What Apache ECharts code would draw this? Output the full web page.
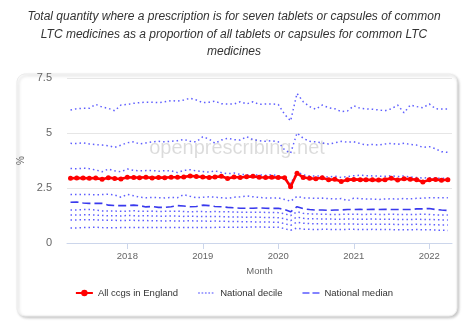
<!DOCTYPE html>
<html>
<head>
<meta charset="utf-8">
<script src="https://cdn.jsdelivr.net/npm/echarts@6/dist/echarts.min.js"></script>
<style>
html,body{margin:0;padding:0;background:#fff;}
#chart{width:468px;height:323px;}
</style>
</head>
<body>
<div id="chart"></div>
<script>
// Months: Apr 2017 .. Apr 2022 (61 monthly points)
const startYear = 2017, startMonth = 3, monthCount = 61;
const months = [];
for (let i = 0; i < monthCount; i++) {
  months.push(new Date(startYear, startMonth + i, 1).getTime());
}
const yearTicks = [2018, 2019, 2020, 2021, 2022];
const yTicks = [0, 2.5, 5, 7.5];

const allCcgs = [2.94,2.95,2.95,2.94,2.95,2.90,2.97,2.93,2.91,
  2.99,2.98,2.97,2.99,2.96,2.98,2.97,2.99,2.99,3.00,3.05,3.02,
  3.00,2.98,3.00,3.03,2.93,3.00,2.98,3.01,3.03,2.99,2.98,2.99,
  2.98,2.97,2.56,3.17,2.98,2.94,
  2.92,2.97,2.87,2.90,2.80,2.88,2.89,2.88,2.87,2.87,
  2.86,2.88,2.94,2.86,2.92,2.90,2.88,2.77,2.87,2.89,2.85,2.88];

const p90 = [6.05,6.10,6.12,6.12,6.30,6.18,6.12,6.01,6.27,
  6.30,6.35,6.38,6.40,6.40,6.38,6.42,6.47,6.45,6.50,6.58,6.50,
  6.38,6.40,6.45,6.33,6.32,6.32,6.42,6.32,6.42,6.30,6.32,6.32,
  6.30,5.85,5.55,6.80,6.42,6.20,
  6.08,6.27,6.15,6.10,5.97,6.00,6.24,6.12,6.10,6.08,
  6.05,6.01,6.10,6.27,5.92,6.27,6.20,6.15,6.32,6.10,6.09,6.09];
const p80 = [4.53,4.52,4.55,4.50,4.47,4.45,4.42,4.35,4.45,
  4.56,4.60,4.50,4.55,4.60,4.62,4.60,4.62,4.65,4.71,4.62,4.60,
  4.83,4.72,4.53,4.68,4.76,4.70,4.68,4.83,4.70,4.65,4.62,4.65,
  4.60,4.23,4.08,5.00,4.76,4.62,
  4.60,4.55,4.50,4.55,4.62,4.58,4.60,4.52,4.45,4.48,
  4.45,4.50,4.53,4.48,4.53,4.48,4.45,4.35,4.38,4.28,4.15,4.12];
const p70 = [3.39,3.37,3.40,3.38,3.32,3.24,3.36,3.28,3.24,
  3.36,3.30,3.28,3.29,3.30,3.26,3.29,3.28,3.20,3.30,3.33,3.28,
  3.25,3.22,3.28,3.20,3.15,3.18,3.12,3.10,3.08,3.10,3.08,3.10,
  3.06,2.95,2.70,3.24,3.10,3.05,
  3.05,3.03,3.00,3.04,2.98,3.02,3.06,3.08,3.06,3.05,
  3.04,3.03,3.06,3.02,3.05,3.00,2.98,2.95,2.97,2.94,2.95,2.94];
const p60 = [2.21,2.20,2.21,2.20,2.19,2.20,2.22,2.18,2.08,
  2.21,2.15,2.08,2.06,2.07,2.06,2.05,2.07,2.06,2.20,2.12,2.06,
  2.08,2.10,2.08,2.06,2.03,2.08,2.10,2.14,2.10,2.07,2.05,2.04,
  2.05,1.98,1.90,2.12,2.05,2.04,
  2.03,2.04,2.02,2.00,2.02,1.92,2.04,2.02,2.00,2.00,
  1.98,2.00,2.01,2.00,2.02,2.01,2.03,2.04,2.06,2.05,2.06,2.06];
const median = [1.85,1.86,1.82,1.80,1.80,1.80,1.72,1.70,1.70,
  1.70,1.72,1.70,1.64,1.66,1.62,1.62,1.65,1.70,1.68,1.65,1.66,
  1.72,1.70,1.66,1.65,1.62,1.60,1.58,1.58,1.58,1.60,1.58,1.57,
  1.58,1.52,1.42,1.65,1.56,1.52,
  1.50,1.50,1.48,1.50,1.50,1.52,1.52,1.53,1.52,1.53,
  1.52,1.53,1.52,1.52,1.52,1.52,1.55,1.55,1.57,1.52,1.50,1.48];
const p40 = [1.50,1.50,1.52,1.52,1.50,1.46,1.45,1.45,1.44,
  1.45,1.47,1.44,1.44,1.45,1.43,1.44,1.44,1.45,1.43,1.42,1.43,
  1.43,1.42,1.43,1.42,1.42,1.41,1.40,1.40,1.40,1.40,1.39,1.39,
  1.38,1.33,1.25,1.42,1.35,1.32,
  1.32,1.31,1.30,1.30,1.30,1.31,1.31,1.30,1.30,1.31,
  1.30,1.30,1.31,1.30,1.30,1.30,1.30,1.31,1.30,1.28,1.27,1.27];
const p30 = [1.27,1.27,1.28,1.28,1.27,1.25,1.24,1.24,1.23,
  1.25,1.24,1.23,1.24,1.23,1.22,1.22,1.23,1.22,1.21,1.22,1.21,
  1.21,1.20,1.21,1.20,1.19,1.18,1.18,1.17,1.18,1.17,1.16,1.16,
  1.15,1.10,1.02,1.18,1.12,1.10,
  1.10,1.09,1.09,1.08,1.08,1.09,1.09,1.08,1.08,1.09,
  1.08,1.08,1.08,1.07,1.07,1.07,1.08,1.07,1.07,1.06,1.05,1.05];
const p20 = [1.05,1.05,1.06,1.06,1.05,1.04,1.03,1.03,1.02,
  1.03,1.03,1.02,1.02,1.01,1.01,1.00,1.01,1.00,1.00,1.01,1.00,
  1.00,0.99,1.00,0.99,0.98,0.98,0.97,0.97,0.96,0.96,0.95,0.95,
  0.94,0.88,0.80,0.95,0.90,0.88,
  0.87,0.87,0.86,0.86,0.86,0.86,0.86,0.85,0.85,0.86,
  0.85,0.85,0.85,0.84,0.84,0.84,0.85,0.84,0.84,0.83,0.82,0.82];
const p10 = [0.68,0.68,0.70,0.70,0.72,0.70,0.69,0.69,0.70,
  0.70,0.70,0.71,0.70,0.70,0.70,0.71,0.70,0.70,0.70,0.70,0.70,
  0.70,0.70,0.71,0.72,0.72,0.72,0.71,0.72,0.73,0.73,0.72,0.72,
  0.72,0.65,0.58,0.68,0.62,0.62,
  0.61,0.62,0.62,0.61,0.61,0.62,0.62,0.61,0.61,0.62,
  0.61,0.61,0.61,0.60,0.60,0.60,0.61,0.60,0.60,0.59,0.58,0.57];

const deciles = [p90, p80, p70, p60, p40, p30, p20, p10];

function pairs(arr) { return arr.map((v, i) => [months[i], v]); }

const FONT = '"Liberation Sans", Arial, sans-serif';
const decileColor = 'rgba(40,40,255,0.75)';
const medianColor = 'rgba(30,30,235,0.88)';

const series = [];
deciles.forEach(d => {
  series.push({
    name: 'National decile', type: 'line', data: pairs(d),
    symbol: 'none', silent: true, z: 2,
    lineStyle: { color: decileColor, width: 1.5, type: [1.5, 3] },
    itemStyle: { color: decileColor }
  });
});
series.push({
  name: 'National median', type: 'line', data: pairs(median),
  symbol: 'none', z: 3,
  lineStyle: { color: medianColor, width: 1.6, type: [8, 4] },
  itemStyle: { color: medianColor }
});
series.push({
  name: 'All ccgs in England', type: 'line', data: pairs(allCcgs),
  symbol: 'circle', symbolSize: 5, z: 5,
  lineStyle: { color: '#ff0000', width: 2.6 },
  itemStyle: { color: '#ff0000' }
});

const yearStamps = yearTicks.map(y => new Date(y, 0, 1).getTime());

const chart = echarts.init(document.getElementById('chart'), null, { renderer: 'canvas' });
chart.setOption({
  animation: false,
  textStyle: { fontFamily: FONT },
  title: {
    text: 'Total quantity where a prescription is for seven tablets or capsules of common\nLTC medicines as a proportion of all tablets or capsules for common LTC\nmedicines',
    left: 'center', top: 3,
    textStyle: { fontStyle: 'italic', fontWeight: 'normal', fontSize: 12, color: '#333', lineHeight: 17.5, fontFamily: FONT, align: 'center' }
  },
  graphic: [
    { type: 'rect', z: -10, shape: { x: 17, y: 74, width: 440, height: 242, r: 8 },
      style: { fill: '#fff', stroke: '#ececec', lineWidth: 1, shadowBlur: 3, shadowColor: 'rgba(0,0,0,0.22)', shadowOffsetX: 1.5, shadowOffsetY: 1.5 } },
    { type: 'text', z: -5, x: 237, y: 148,
      style: { text: 'openprescribing.net', fontSize: 20, fontFamily: FONT, fill: 'rgba(0,0,0,0.14)', align: 'center', verticalAlign: 'middle' } }
  ],
  grid: { left: 67, right: 16, top: 78, bottom: 80 },
  xAxis: {
    type: 'value',
    min: new Date(2017, 2, 15).getTime(),
    max: new Date(2022, 3, 21).getTime(),
    name: 'Month', nameLocation: 'middle', nameGap: 22,
    nameTextStyle: { color: '#666', fontSize: 9.5, fontFamily: FONT },
    axisLine: { lineStyle: { color: '#ccd6eb', width: 1 } },
    axisTick: { show: true, length: 6, lineStyle: { color: '#ccd6eb' }, customValues: yearStamps },
    axisLabel: { color: '#666', fontSize: 9.5, margin: 8, fontFamily: FONT, customValues: yearStamps,
      formatter: v => String(new Date(v).getFullYear()) },
    splitLine: { show: false }
  },
  yAxis: {
    type: 'value', min: 0, max: 7.5, interval: 2.5,
    name: '%', nameLocation: 'middle', nameGap: 40, nameRotate: 90,
    nameTextStyle: { color: '#666', fontSize: 10, fontFamily: FONT },
    axisLine: { show: false }, axisTick: { show: false },
    axisLabel: { color: '#666', fontSize: 11, margin: 15, fontFamily: FONT,
      formatter: v => String(v) },
    splitLine: { lineStyle: { color: '#e6e6e6', width: 1 } }
  },
  legend: {
    bottom: 20, left: 'center', itemWidth: 17, itemHeight: 8, itemGap: 20,
    data: [
      { name: 'All ccgs in England' },
      { name: 'National decile', icon: 'path://M0,0h2v2h-2zM4,0h2v2h-2zM8,0h2v2h-2zM12,0h2v2h-2zM16,0h2v2h-2zM20,0h0.01v2h-0.01z',
        itemStyle: { color: 'rgba(90,90,255,0.75)' } },
      { name: 'National median', icon: 'path://M0,0h7v2h-7zM10,0h7v2h-7z',
        itemStyle: { color: 'rgba(90,90,255,0.75)' } }
    ],
    textStyle: { color: '#333', fontSize: 9.5, fontFamily: FONT }
  },
  series: series
});
</script>
</body>
</html>
